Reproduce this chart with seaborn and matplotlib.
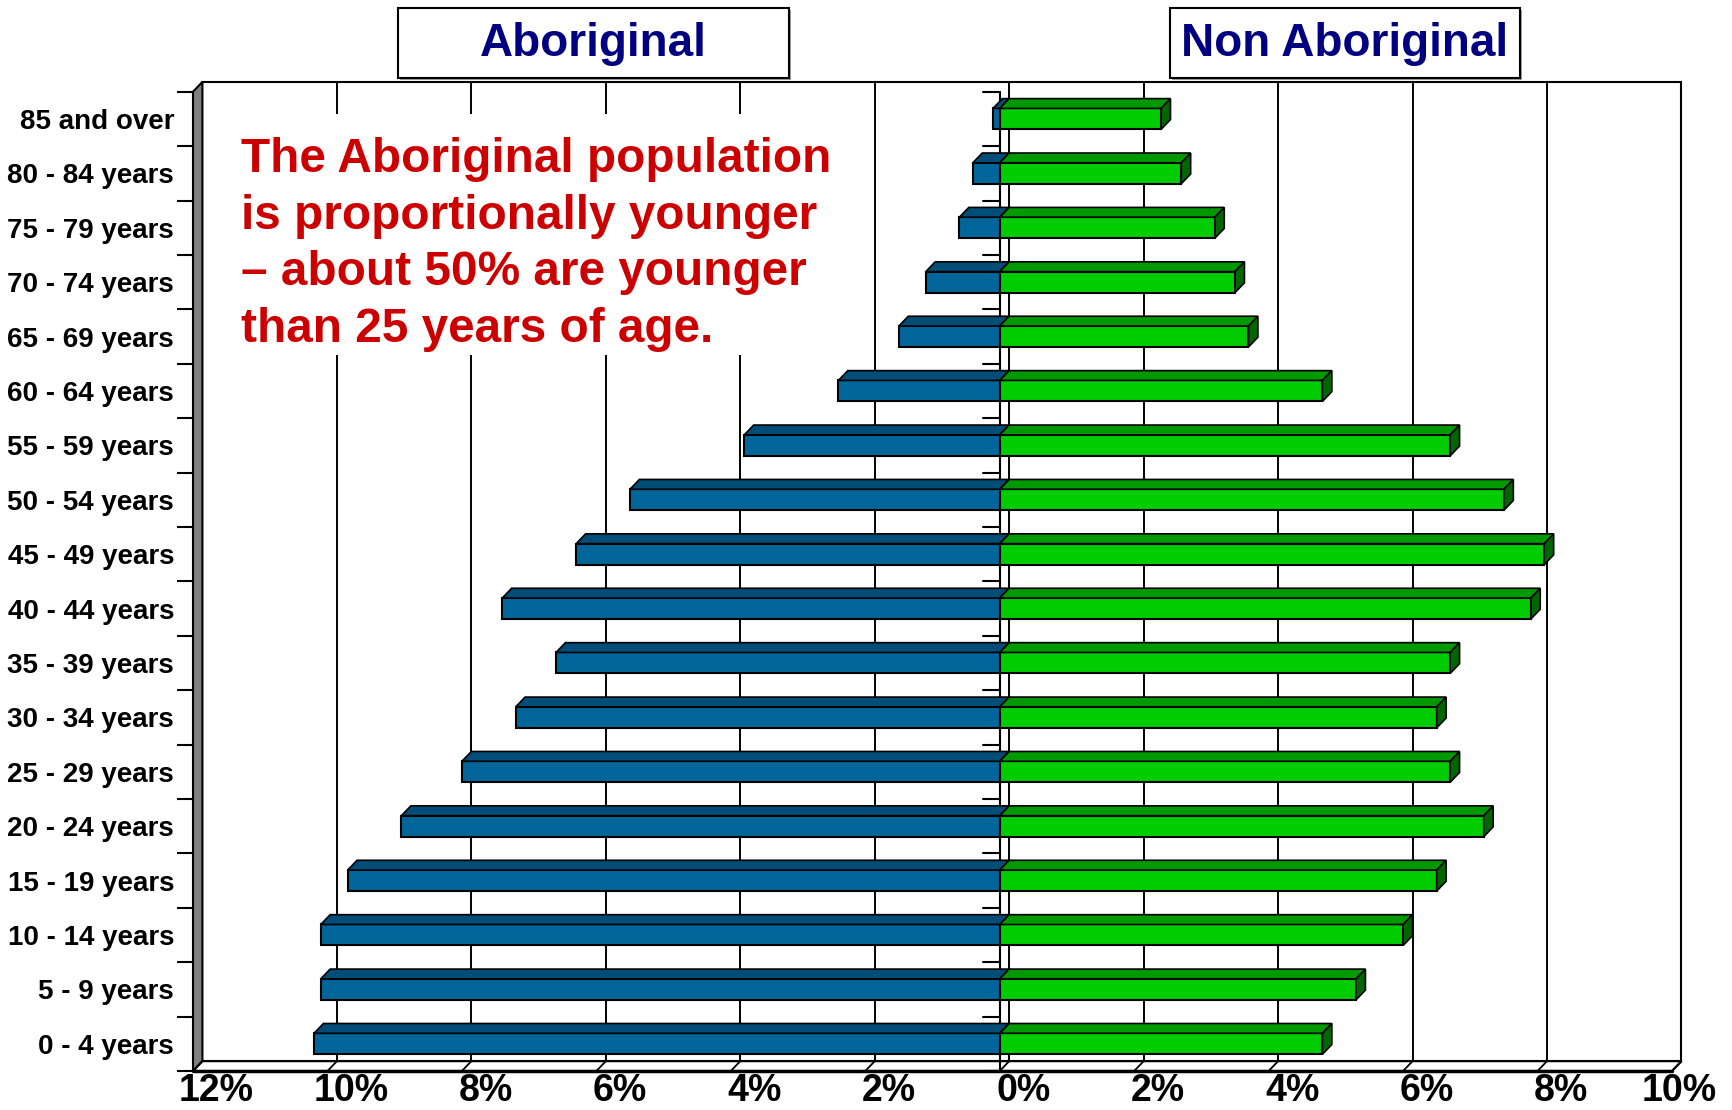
import numpy as np
import pandas as pd
import seaborn as sns
import matplotlib.pyplot as plt
from matplotlib.patches import Polygon, Rectangle

# age groups, youngest first
ages = ["0 - 4 years", "5 - 9 years", "10 - 14 years", "15 - 19 years",
        "20 - 24 years", "25 - 29 years", "30 - 34 years", "35 - 39 years",
        "40 - 44 years", "45 - 49 years", "50 - 54 years", "55 - 59 years",
        "60 - 64 years", "65 - 69 years", "70 - 74 years", "75 - 79 years",
        "80 - 84 years", "85 and over"]
# percent of each population
aboriginal = [10.2, 10.1, 10.1, 9.7, 8.9, 8.0, 7.2, 6.6, 7.4, 6.3,
              5.5, 3.8, 2.4, 1.5, 1.1, 0.6, 0.4, 0.1]
non_aboriginal = [4.8, 5.3, 6.0, 6.5, 7.2, 6.7, 6.5, 6.7, 7.9, 8.1,
                  7.5, 6.7, 4.8, 3.7, 3.5, 3.2, 2.7, 2.4]
x_ticks = [-12, -10, -8, -6, -4, -2, 0, 2, 4, 6, 8, 10]
x_labels = ["12%", "10%", "8%", "6%", "4%", "2%", "0%", "2%", "4%", "6%", "8%", "10%"]

sns.set_style("white")
plt.rcParams["font.family"] = ["Liberation Sans", "DejaVu Sans"]
plt.rcParams["text.color"] = "black"
plt.rcParams["ytick.color"] = "black"

df = pd.DataFrame({
    "age": ages * 2,
    "pct": [-v for v in aboriginal] + non_aboriginal,
    "group": ["Aboriginal"] * len(ages) + ["Non Aboriginal"] * len(ages),
})
order = ages[::-1]
n = len(ages)

W, H = 1733, 1110
fig = plt.figure(figsize=(W / 100, H / 100), dpi=100)
ax = fig.add_axes([193 / W, (H - 1071) / H, (1672 - 193) / W, (1071 - 91.7) / H])

dx, dy = 0.14, 0.18  # 3d depth offset (x in %, y in category units)
x_lo, x_hi = -12, 10
y_top, y_bot = -0.5, n - 0.5

# back wall, left wall, floor
ax.add_patch(Rectangle((x_lo + dx, y_top - dy), x_hi - x_lo, n, facecolor="white",
                       edgecolor="black", lw=1.5, zorder=0, clip_on=False))
ax.add_patch(Polygon([(x_lo, y_top), (x_lo + dx, y_top - dy), (x_lo + dx, y_bot - dy), (x_lo, y_bot)],
                     facecolor="#808080", edgecolor="black", lw=1.5, zorder=1, clip_on=False))
ax.add_patch(Polygon([(x_lo, y_bot), (x_lo + dx, y_bot - dy), (x_hi + dx, y_bot - dy), (x_hi, y_bot)],
                     facecolor="white", edgecolor="black", lw=1.5, zorder=1, clip_on=False))
for v in x_ticks:
    if x_lo < v < x_hi:
        ax.plot([v + dx, v + dx], [y_top - dy, y_bot - dy], color="black", lw=1.4, zorder=0.5, clip_on=False)
    ax.plot([v + dx, v], [y_bot - dy, y_bot], color="black", lw=1.3, zorder=1.5, clip_on=False)
ax.plot([x_lo, x_hi], [y_bot, y_bot], color="black", lw=2.5, zorder=2, clip_on=False)

# front zero axis with ticks at category boundaries
ax.plot([0, 0], [y_top, y_bot], color="black", lw=1.5, zorder=2, clip_on=False)
for b in np.arange(y_top, y_bot + 0.5):
    ax.plot([-0.25, 0], [b, b], color="black", lw=1.5, zorder=2, clip_on=False)

sns.barplot(data=df, x="pct", y="age", hue="group", order=order, dodge=False,
            palette={"Aboriginal": "#006699", "Non Aboriginal": "#00CC00"}, saturation=1,
            width=0.386, edgecolor="black", linewidth=1.5, errorbar=None,
            legend=False, orient="h", ax=ax, zorder=3)

# top and side faces for the 3d look
for p in list(ax.patches):
    if not isinstance(p, Rectangle) or p.get_height() > 1:
        continue
    x0 = min(p.get_x(), p.get_x() + p.get_width())
    x1 = max(p.get_x(), p.get_x() + p.get_width())
    yt = p.get_y()
    yb = yt + p.get_height()
    if abs(x1 - x0) < 1e-9:
        continue
    blue = x0 < 0
    top_col = "#004E78" if blue else "#009900"
    ax.add_patch(Polygon([(x0, yt), (x0 + dx, yt - dy), (x1 + dx, yt - dy), (x1, yt)],
                         facecolor=top_col, edgecolor="black", lw=1.2, zorder=3, clip_on=False))
    if not blue:
        ax.add_patch(Polygon([(x1, yt), (x1 + dx, yt - dy), (x1 + dx, yb - dy), (x1, yb)],
                             facecolor="#006600", edgecolor="black", lw=1.2, zorder=3, clip_on=False))

ax.set_xlim(x_lo, x_hi)
ax.set_ylim(y_bot, y_top)
for s in ax.spines.values():
    s.set_visible(False)
ax.set_xlabel("")
ax.set_ylabel("")
ax.set_xticks([])
ax.set_yticks(range(n))
ax.set_yticklabels(order, fontsize=20, fontweight="bold", color="black")
ax.tick_params(axis="y", which="major", left=True, length=0, pad=13.5)
ax.set_yticks(np.arange(y_top, y_bot + 0.5), minor=True)
ax.tick_params(axis="y", which="minor", left=True, length=11.5, width=1.5, direction="out", color="black")

for v, lab in zip(x_ticks, x_labels):
    ax.text(min(v + 0.35, 10.1), 17.87, lab, ha="center", va="center", fontsize=27,
            fontweight="bold", color="black", clip_on=False)

# group headers
for (l, r), txt in zip([(398, 789), (1170, 1520)], ["Aboriginal", "Non Aboriginal"]):
    fig.add_artist(Rectangle(((l + 2) / W, (H - 80) / H), (r - l) / W, 70 / H, transform=fig.transFigure,
                             facecolor="#A0A0A0", edgecolor="none", zorder=4))
    fig.add_artist(Rectangle((l / W, (H - 78) / H), (r - l) / W, 70 / H, transform=fig.transFigure,
                             facecolor="white", edgecolor="black", lw=1.5, zorder=5))
    fig.text((l + r) / 2 / W, (H - 44) / H, txt, ha="center", va="center", fontsize=33,
             fontweight="bold", color="#000080", zorder=6)

# white text box over the gridlines
fig.add_artist(Rectangle((232 / W, (H - 355) / H), (850 - 232) / W, (355 - 114) / H,
                         transform=fig.transFigure, facecolor="white", edgecolor="none", zorder=2))
fig.text(241 / W, 1 - 137 / H,
         "The Aboriginal population\nis proportionally younger\n\u2013 about 50% are younger\nthan 25 years of age.",
         ha="left", va="top", fontsize=34.4, fontweight="bold", color="#CC0000", linespacing=1.33,
         zorder=3)

fig.savefig("out.png", dpi=100)
